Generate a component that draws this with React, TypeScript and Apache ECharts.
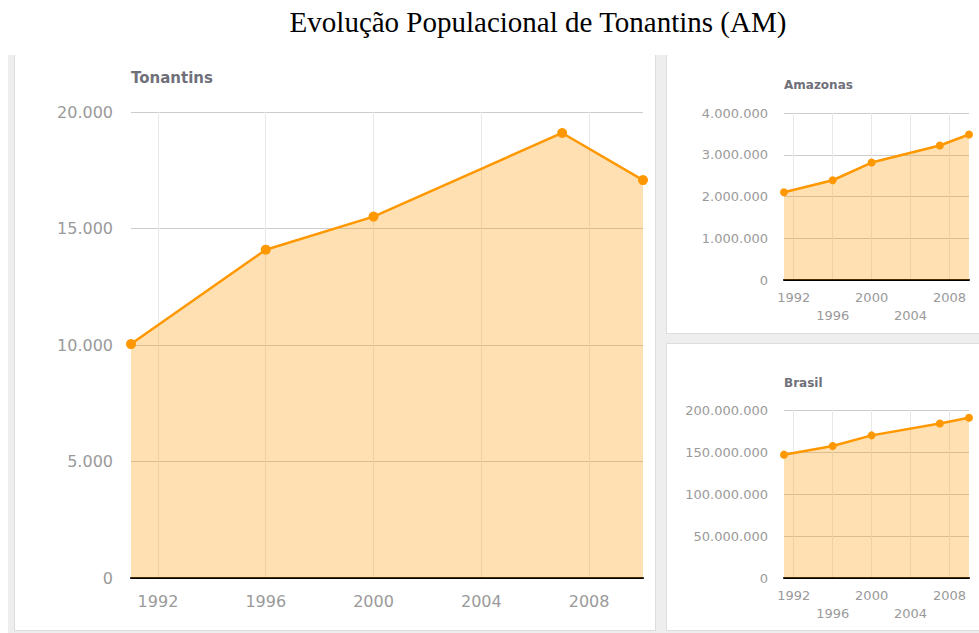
import React, { useEffect, useRef } from "react";
import * as echarts from "echarts";

const pageTitle = "Evolução Populacional de Tonantins (AM)";
const chartTitles = ["Tonantins", "Amazonas", "Brasil"];
const years = [1991, 1996, 2000, 2007, 2010];
const tonantins = [10040, 14090, 15512, 19100, 17079];
const amazonas = [2103243, 2389279, 2812557, 3221939, 3483985];
const brasil = [146825475, 157070163, 169799170, 183987291, 190755799];
const xTickYears = [1992, 1996, 2000, 2004, 2008];
const lowerRowYears = [1996, 2004];
const yMax = [20000, 4000000, 200000000];
const yStep = [5000, 1000000, 50000000];

const ORANGE = "#FF9800";
const LABEL = "#9a9a9a";
const SANS = "DejaVu Sans";

const fmt = (v: number) =>
  String(Math.round(v)).replace(/\B(?=(\d{3})+(?!\d))/g, ".");

export default function App() {
  const ref = useRef<HTMLDivElement>(null);

  useEffect(() => {
    document.body.style.margin = "0";
    if (!ref.current) return;
    const chart = echarts.init(ref.current, undefined, { renderer: "svg" });

    const grids = [
      { left: 131, right: 336, top: 112, bottom: 55 },
      { left: 784, right: 10, top: 113, bottom: 353 },
      { left: 784, right: 10, top: 410, bottom: 55 },
    ];

    const xAxes = grids.map((_, i) => {
      const small = i > 0;
      return {
        type: "value",
        gridIndex: i,
        min: 1991,
        max: 2010,
        interval: 1,
        axisLine: { show: true, onZero: false, lineStyle: { color: "#000", width: 2 } },
        axisTick: { show: false },
        splitLine: {
          show: true,
          lineStyle: {
            color: ["rgba(0,0,0,0)", "#e8e8e8", "rgba(0,0,0,0)", "rgba(0,0,0,0)"],
            width: 1,
          },
        },
        axisLabel: {
          color: LABEL,
          fontFamily: SANS,
          fontSize: small ? 13 : 16,
          lineHeight: small ? 18 : 18,
          margin: small ? 8 : 14,
          formatter: (v: number) => {
            if (!xTickYears.includes(v)) return "";
            if (small && lowerRowYears.includes(v)) return "\n" + v;
            return String(v);
          },
        },
      };
    });

    const yAxes = grids.map((_, i) => ({
      type: "value",
      gridIndex: i,
      min: 0,
      max: yMax[i],
      interval: yStep[i],
      axisLine: { show: false },
      axisTick: { show: false },
      splitLine: { show: true, lineStyle: { color: "#cccccc", width: 1 } },
      axisLabel: {
        color: LABEL,
        fontFamily: SANS,
        fontSize: i > 0 ? 13 : 16,
        margin: i > 0 ? 16 : 18,
        formatter: (v: number) => fmt(v),
      },
    }));

    const datasets = [tonantins, amazonas, brasil];
    const series = datasets.map((vals, i) => ({
      type: "line",
      xAxisIndex: i,
      yAxisIndex: i,
      data: years.map((y, k) => [y, vals[k]]),
      symbol: "circle",
      symbolSize: i > 0 ? 8 : 10,
      showSymbol: true,
      lineStyle: { color: ORANGE, width: i > 0 ? 2.5 : 2.5 },
      itemStyle: { color: ORANGE },
      areaStyle: { color: ORANGE, opacity: 0.3 },
    }));

    const titlePos = [
      { x: 131, y: 78, size: 15 },
      { x: 784, y: 85, size: 12 },
      { x: 784, y: 383, size: 12 },
    ];

    chart.setOption({
      animation: false,
      grid: grids,
      xAxis: xAxes,
      yAxis: yAxes,
      series,
      graphic: [
        {
          type: "text",
          x: 538,
          y: 22,
          style: {
            text: pageTitle,
            fontFamily: "Liberation Serif",
            fontSize: 29,
            fill: "#000",
            align: "center",
            verticalAlign: "middle",
          },
        },
        ...chartTitles.map((t, i) => ({
          type: "text",
          x: titlePos[i].x,
          y: titlePos[i].y,
          style: {
            text: t,
            fontFamily: SANS,
            fontWeight: "bold",
            fontSize: titlePos[i].size,
            fill: "#70707a",
            align: "left",
            verticalAlign: "middle",
          },
        })),
      ],
    });

    return () => chart.dispose();
  }, []);

  const band = "#eeeeee";
  const edge = "1px solid #dddddd";
  return (
    <div style={{ position: "absolute", left: 0, top: 0, width: 979, height: 633, background: "#fff", overflow: "hidden" }}>
      <div style={{ position: "absolute", left: 8, top: 55, width: 980, height: 580, background: band }} />
      <div style={{ position: "absolute", left: 14, top: 55, width: 642, height: 576, background: "#fff", borderLeft: edge, borderRight: edge, borderBottom: edge, boxSizing: "border-box" }} />
      <div style={{ position: "absolute", left: 666, top: 55, width: 320, height: 279, background: "#fff", borderLeft: edge, borderBottom: edge, boxSizing: "border-box" }} />
      <div style={{ position: "absolute", left: 666, top: 343, width: 320, height: 288, background: "#fff", borderLeft: edge, borderTop: edge, borderBottom: edge, boxSizing: "border-box" }} />
      <div ref={ref} style={{ position: "absolute", left: 0, top: 0, width: 979, height: 633 }} />
    </div>
  );
}
